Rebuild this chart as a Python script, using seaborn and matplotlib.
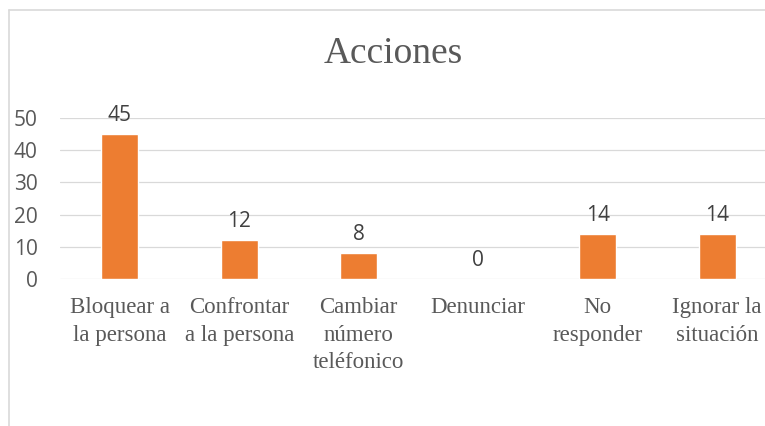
import matplotlib
matplotlib.use('Agg')
import matplotlib.pyplot as plt
import seaborn as sns
import pandas as pd
from matplotlib.lines import Line2D

# Datos del grafico
acciones = ['Bloquear a\nla persona', 'Confrontar\na la persona', 'Cambiar\nnúmero\nteléfonico',
            'Denunciar', 'No\nresponder', 'Ignorar la\nsituación']
conteo = [45, 12, 8, 0, 14, 14]

df = pd.DataFrame({'Accion': acciones, 'Conteo': conteo})

sns.set_style('white')
gris = '#595959'

fig = plt.figure(figsize=(7.65, 4.26), dpi=100)
ax = fig.add_axes([60 / 765, 147 / 426, 717 / 765, 161 / 426])

sns.barplot(x='Accion', y='Conteo', data=df, color='#ED7D31', width=0.31,
            saturation=1, ax=ax, zorder=3)

ax.set_ylim(0, 50)
ax.set_yticks([0, 10, 20, 30, 40, 50])
ax.grid(axis='y', color='#D9D9D9', linewidth=0.9, zorder=0)
ax.set_axisbelow(True)
for s in ax.spines.values():
    s.set_visible(False)
ax.set_xlabel('')
ax.set_ylabel('')
ax.tick_params(axis='both', length=0)
ax.tick_params(axis='y', pad=16, labelsize=15, labelcolor=gris)
ax.tick_params(axis='x', pad=13, labelcolor=gris)
for t in ax.get_yticklabels():
    t.set_family('Open Sans')
for t in ax.get_xticklabels():
    t.set_family('Liberation Serif')
    t.set_fontsize(16.5)
    t.set_linespacing(1.42)

# Etiquetas de valor
for i, v in enumerate(conteo):
    ax.annotate(str(v), (i, v), xytext=(0, 6), textcoords='offset points',
                ha='center', va='bottom', fontsize=15, color='#404040',
                family='Open Sans')

fig.text(393 / 765, 1 - 54 / 426, 'Acciones', ha='center', va='center',
         fontsize=27, color=gris, family='Liberation Serif')

# Borde del area del grafico
fig.add_artist(Line2D([9 / 765, 9 / 765], [0, 1 - 10 / 426], transform=fig.transFigure,
                      color='#D9D9D9', linewidth=1.2))
fig.add_artist(Line2D([9 / 765, 1], [1 - 10 / 426, 1 - 10 / 426], transform=fig.transFigure,
                      color='#D9D9D9', linewidth=1.2))

fig.savefig('out.png', dpi=100, facecolor='white')
